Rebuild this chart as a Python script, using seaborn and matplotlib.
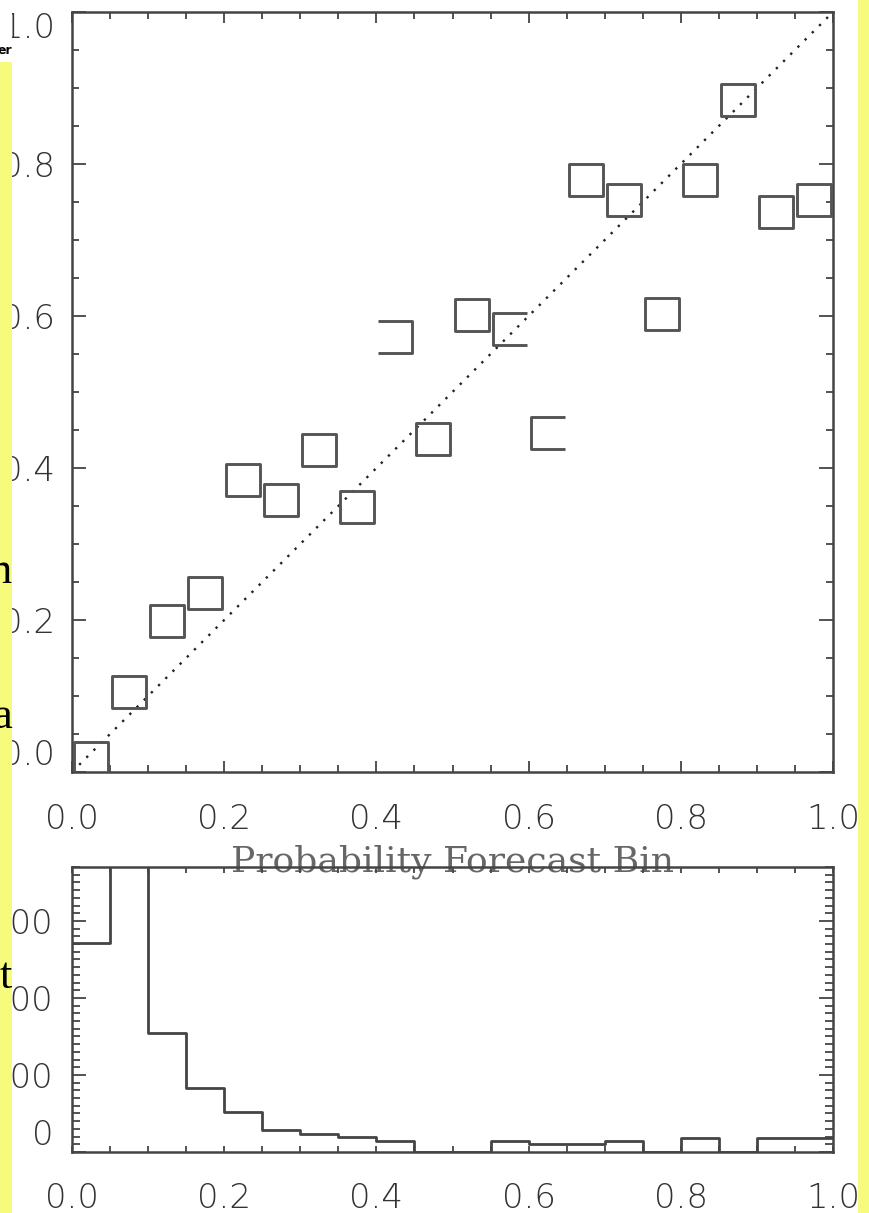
import matplotlib
matplotlib.use("Agg")
import numpy as np
import pandas as pd
import matplotlib.pyplot as plt
import seaborn as sns
from matplotlib.path import Path
from matplotlib.patches import Rectangle
from matplotlib.ticker import MultipleLocator

# ---------------- data ----------------
bin_centers = [0.025, 0.075, 0.125, 0.175, 0.225, 0.275, 0.325, 0.375, 0.425, 0.475,
               0.525, 0.575, 0.625, 0.675, 0.725, 0.775, 0.825, 0.875, 0.925, 0.975]
observed_freq = [0.018, 0.105, 0.199, 0.236, 0.384, 0.358, 0.424, 0.349, 0.572, 0.438,
                 0.601, 0.583, 0.446, 0.779, 0.753, 0.603, 0.779, 0.884, 0.737, 0.753]
marker_shape = ["full", "full", "full", "full", "full", "full", "full", "full", "open_left", "full",
                "full", "open_right", "open_right", "full", "full", "full", "full", "full", "full", "full"]
diag_x = [0.0, 1.0]
diag_y = [0.0, 1.0]

hist_edges = [0.0, 0.05, 0.1, 0.15, 0.2, 0.25, 0.3, 0.35, 0.4, 0.45, 0.5,
              0.55, 0.6, 0.65, 0.7, 0.75, 0.8, 0.85, 0.9, 0.95, 1.0]
hist_counts = [271, 390, 155, 83, 52, 29, 23, 19, 14, 0,
               0, 14, 10, 10, 14, 0, 18, 0, 18, 18]

xticks = [0.0, 0.2, 0.4, 0.6, 0.8, 1.0]
xtick_labels = ["0.0", "0.2", "0.4", "0.6", "0.8", "1.0"]
yticks_top = [0.0, 0.2, 0.4, 0.6, 0.8, 1.0]
ytick_labels_top = ["0.0", "0.2", "0.4", "0.6", "0.8", "1.0"]
yticks_bot = [0, 100, 200, 300]
ytick_labels_bot = ["0", "100", "200", "300"]
xlabel = "Probability Forecast Bin"
side_letters = ["n", "a", "t"]
corner_text = "er"

# ---------------- style ----------------
sns.set_theme(style="white")
plt.rcParams["font.family"] = ["DejaVu Sans"]
plt.rcParams["font.weight"] = "light"

W, H = 869, 1213
fig = plt.figure(figsize=(W / 100, H / 100), dpi=100)
fig.patch.set_facecolor("white")

def fx(px):
    return px / W

def fy(py):
    return 1 - py / H

ax1 = fig.add_axes([fx(72), fy(772), fx(833) - fx(72), fy(12) - fy(772)])
ax2 = fig.add_axes([fx(72), fy(1152), fx(833) - fx(72), fy(867) - fy(1152)])
ax2.patch.set_alpha(0)

# custom square markers (some sides dropped as in the source image)
hw, hh = 0.53, 0.5
full_sq = Path([(-hw, -hh), (hw, -hh), (hw, hh), (-hw, hh), (-hw, -hh)],
               [Path.MOVETO, Path.LINETO, Path.LINETO, Path.LINETO, Path.CLOSEPOLY])
open_left = Path([(-hw, hh), (hw, hh), (hw, -hh), (-hw, -hh)])
open_right = Path([(hw, hh), (-hw, hh), (-hw, -hh), (hw, -hh)])

df = pd.DataFrame({"bin": bin_centers, "freq": observed_freq, "shape": marker_shape})

sns.lineplot(x=diag_x, y=diag_y, ax=ax1, color="#222222", linewidth=1.7,
             linestyle=(0, (1, 3.3)))
sns.scatterplot(data=df, x="bin", y="freq", style="shape",
                markers={"full": full_sq, "open_left": open_left, "open_right": open_right},
                s=600, color="#555555", facecolor="none", edgecolor="#555555",
                linewidth=2.1, legend=False, ax=ax1, zorder=3)

sns.histplot(x=bin_centers, weights=hist_counts, bins=hist_edges, element="step",
             fill=False, color="#444444", linewidth=2.0, ax=ax2)

# ---------------- axes formatting ----------------
ax1.set_xlim(0, 1)
ax1.set_ylim(0, 1)
ax2.set_xlim(0, 1)
ax2.set_ylim(0, 370)

for ax in (ax1, ax2):
    for sp in ax.spines.values():
        sp.set_visible(True)
        sp.set_color("#444444")
        sp.set_linewidth(1.8)
    ax.set_ylabel("")
    ax.set_xlabel("")
    ax.xaxis.set_minor_locator(MultipleLocator(0.05))
    ax.tick_params(which="both", direction="in", top=True, right=True,
                   bottom=True, left=True, color="#444444", labelcolor="#333333",
                   labelsize=24.5, width=1.3)

ax1.yaxis.set_minor_locator(MultipleLocator(0.05))
ax1.set_xticks(xticks, xtick_labels)
ax1.set_yticks(yticks_top, ytick_labels_top)
ax1.tick_params(axis="y", which="major", length=10, pad=12)
ax1.tick_params(axis="y", which="minor", length=5)
ax1.tick_params(axis="x", which="major", length=8, pad=22)
ax1.tick_params(axis="x", which="minor", length=5)

ax2.yaxis.set_minor_locator(MultipleLocator(10))
ax2.set_xticks(xticks, xtick_labels)
ax2.set_yticks(yticks_bot, ytick_labels_bot)
ax2.tick_params(axis="y", which="major", length=10, pad=13.5)
ax2.tick_params(axis="y", which="minor", length=6)
ax2.tick_params(axis="x", which="both", length=4, pad=21.5)

# end labels kept inside the frame (IDL style)
yl = ax1.get_yticklabels()
yl[0].set_va("bottom")
yl[-1].set_va("top")
ax2.get_yticklabels()[0].set_va("bottom")

ax1.set_xlabel(xlabel, family="DejaVu Serif", fontsize=26, color="#666666", va="center")
ax1.xaxis.set_label_coords(0.5, -(862 - 772) / 760)

# ---------------- page overlay (cropped screenshot edges) ----------------
yellow = "#f6fb7e"
fig.add_artist(Rectangle((0, 0), fx(12), fy(62), transform=fig.transFigure,
                         facecolor=yellow, edgecolor="none", zorder=5))
fig.add_artist(Rectangle((0, fy(62)), fx(12), 1 - fy(62), transform=fig.transFigure,
                         facecolor="white", edgecolor="none", zorder=5))
fig.add_artist(Rectangle((fx(858), 0), 1 - fx(858), 1, transform=fig.transFigure,
                         facecolor=yellow, edgecolor="none", zorder=5))

for letter, base in zip(side_letters, [583, 728, 988]):
    fig.text(fx(12.5), fy(base), letter, ha="right", va="baseline",
             family="Liberation Serif", fontsize=32, color="black", zorder=6)
fig.text(fx(12.5), fy(50), corner_text, ha="right", va="center",
         fontsize=9, weight="bold", color="black", zorder=6)

fig.savefig("out.png", dpi=100)
